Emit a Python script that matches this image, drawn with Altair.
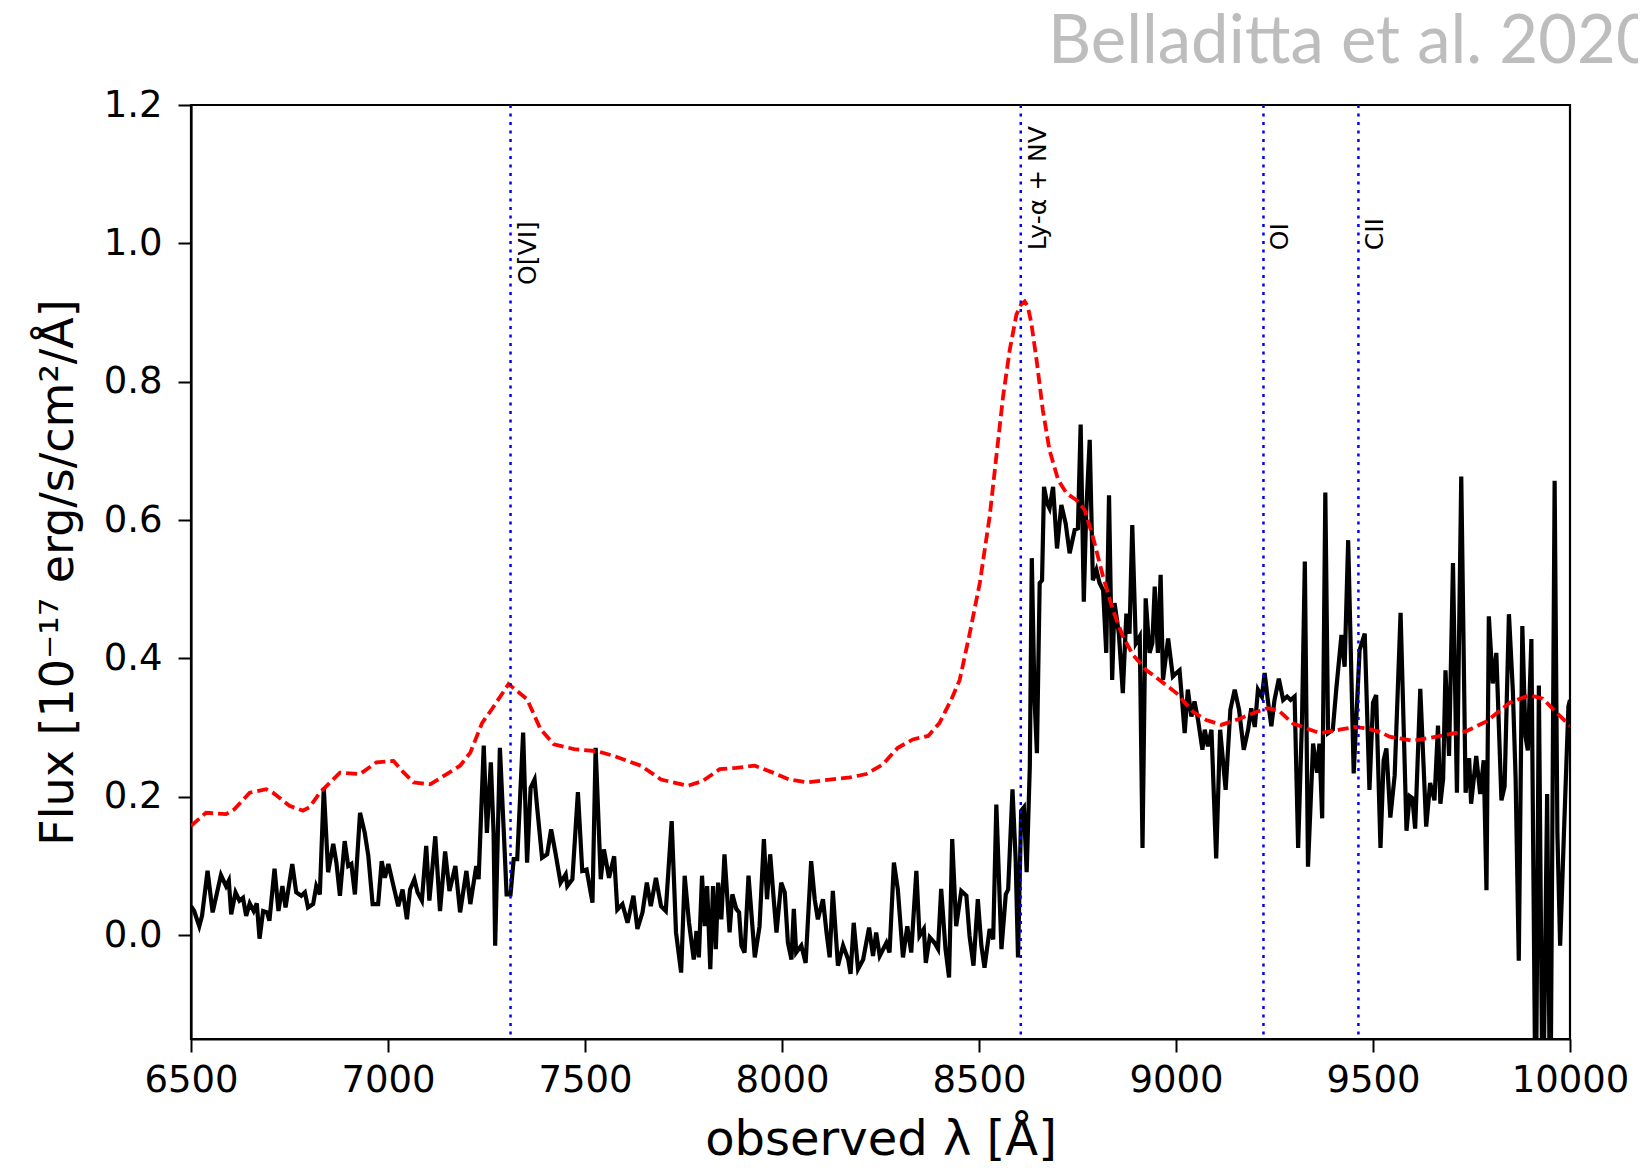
import altair as alt
import pandas as pd

# ---------------- data ----------------
SPEC_LAM = [
    6500, 6508, 6521, 6528, 6542, 6555, 6576, 6589, 6596, 6602, 6613, 6623, 6632, 6640, 6649, 6659,
    6667, 6674, 6683, 6693, 6699, 6712, 6722, 6732, 6740, 6757, 6767, 6780, 6789, 6797, 6810, 6818,
    6827, 6837, 6848, 6861, 6869, 6878, 6890, 6899, 6907, 6916, 6929, 6941, 6950, 6961, 6975, 6984,
    6992, 7001, 7014, 7026, 7037, 7048, 7056, 7067, 7075, 7086, 7097, 7105, 7120, 7132, 7145, 7156,
    7171, 7183, 7199, 7209, 7224, 7230, 7243, 7251, 7261, 7268, 7272, 7284, 7294, 7301, 7311, 7319,
    7328, 7343, 7353, 7362, 7372, 7379, 7391, 7404, 7414, 7425, 7438, 7451, 7455, 7468, 7482, 7493,
    7504, 7519, 7527, 7540, 7548, 7561, 7574, 7582, 7595, 7608, 7623, 7633, 7646, 7657, 7667, 7680,
    7693, 7705, 7720, 7731, 7744, 7753, 7764, 7776, 7783, 7789, 7797, 7804, 7810, 7818, 7825, 7832,
    7838, 7846, 7854, 7867, 7874, 7884, 7891, 7897, 7905, 7915, 7931, 7943, 7954, 7962, 7970, 7979,
    7986, 7998, 8007, 8015, 8024, 8030, 8036, 8049, 8060, 8074, 8083, 8091, 8104, 8113, 8121, 8129,
    8142, 8155, 8168, 8174, 8182, 8193, 8206, 8221, 8231, 8239, 8248, 8265, 8273, 8284, 8294, 8307,
    8318, 8328, 8341, 8349, 8360, 8365, 8375, 8387, 8396, 8404, 8415, 8424, 8432, 8442, 8455, 8468,
    8476, 8486, 8497, 8506, 8514, 8527, 8536, 8544, 8557, 8568, 8574, 8585, 8593, 8599, 8607, 8614,
    8621, 8629, 8634, 8641, 8647, 8654, 8660, 8665, 8673, 8679, 8688, 8698, 8709, 8720, 8730, 8743,
    8751, 8758, 8766, 8772, 8781, 8789, 8798, 8806, 8815, 8823, 8830, 8838, 8844, 8855, 8865, 8874,
    8882, 8889, 8898, 8908, 8915, 8923, 8933, 8940, 8946, 8954, 8961, 8967, 8980, 8992, 9001, 9009,
    9016, 9022, 9030, 9039, 9047, 9056, 9067, 9073, 9081, 9090, 9102, 9112, 9126, 9138, 9149, 9160,
    9172, 9183, 9191, 9200, 9208, 9218, 9225, 9233, 9242, 9250, 9261, 9272, 9282, 9291, 9301, 9310,
    9320, 9327, 9335, 9348, 9358, 9364, 9371, 9379, 9386, 9398, 9407, 9420, 9428, 9437, 9451, 9466,
    9479, 9491, 9500, 9508, 9519, 9527, 9534, 9544, 9555, 9570, 9585, 9593, 9600, 9607, 9620, 9635,
    9645, 9656, 9665, 9671, 9678, 9684, 9693, 9703, 9713, 9724, 9735, 9744, 9749, 9762, 9772, 9781,
    9788, 9794, 9804, 9813, 9826, 9834, 9845, 9855, 9862, 9870, 9879, 9887, 9893, 9902, 9913, 9921,
    9931, 9942, 9950, 9961, 9968, 9975, 9986, 9996, 10000,
]
SPEC_FLUX = [
    0.042, 0.035, 0.013, 0.028, 0.093, 0.033, 0.087, 0.071, 0.079, 0.030, 0.062, 0.050, 0.054, 0.028, 0.046, 0.035,
    0.046, -0.005, 0.035, 0.033, 0.021, 0.096, 0.035, 0.071, 0.040, 0.103, 0.062, 0.057, 0.062, 0.040, 0.045, 0.071,
    0.059, 0.213, 0.091, 0.132, 0.105, 0.057, 0.136, 0.100, 0.103, 0.059, 0.177, 0.148, 0.115, 0.045, 0.045, 0.107,
    0.083, 0.103, 0.071, 0.042, 0.066, 0.023, 0.066, 0.081, 0.062, 0.050, 0.129, 0.050, 0.143, 0.035, 0.121, 0.064,
    0.100, 0.033, 0.093, 0.045, 0.100, 0.081, 0.274, 0.148, 0.250, 0.148, -0.015, 0.271, 0.148, 0.059, 0.059, 0.110,
    0.110, 0.293, 0.105, 0.213, 0.225, 0.182, 0.112, 0.117, 0.153, 0.119, 0.076, 0.088, 0.071, 0.081, 0.207, 0.093,
    0.095, 0.047, 0.271, 0.081, 0.124, 0.083, 0.114, 0.037, 0.045, 0.018, 0.057, 0.009, 0.033, 0.076, 0.042, 0.083,
    0.042, 0.035, 0.165, 0.004, -0.054, 0.086, 0.018, -0.035, 0.006, -0.032, 0.086, 0.013, 0.071, -0.049, 0.071, -0.020,
    0.076, 0.023, 0.117, 0.004, 0.059, 0.038, 0.033, -0.015, -0.025, 0.086, -0.032, 0.013, 0.139, 0.052, 0.117, 0.052,
    0.004, 0.076, 0.062, -0.011, -0.035, 0.038, -0.025, -0.015, -0.040, 0.107, 0.052, 0.023, 0.052, 0.004, -0.032, 0.064,
    -0.044, -0.015, -0.035, -0.056, 0.018, -0.049, -0.035, 0.011, -0.030, 0.004, -0.030, -0.011, -0.025, 0.105, 0.066, -0.032,
    0.013, -0.025, 0.093, -0.001, 0.009, -0.040, -0.003, -0.011, -0.020, 0.067, -0.020, -0.061, 0.139, 0.013, 0.064, 0.057,
    -0.001, -0.044, 0.052, -0.015, -0.047, 0.009, -0.006, 0.189, -0.020, 0.059, 0.066, 0.211, 0.110, -0.032, 0.180, 0.185,
    0.091, 0.245, 0.545, 0.340, 0.263, 0.509, 0.513, 0.648, 0.624, 0.617, 0.648, 0.559, 0.622, 0.595, 0.552, 0.586,
    0.588, 0.738, 0.482, 0.610, 0.716, 0.513, 0.528, 0.509, 0.499, 0.408, 0.636, 0.369, 0.480, 0.436, 0.350, 0.465,
    0.436, 0.593, 0.422, 0.432, 0.126, 0.487, 0.408, 0.422, 0.504, 0.408, 0.521, 0.369, 0.429, 0.374, 0.379, 0.383,
    0.335, 0.292, 0.355, 0.316, 0.338, 0.311, 0.268, 0.297, 0.273, 0.297, 0.111, 0.297, 0.210, 0.326, 0.355, 0.326,
    0.268, 0.297, 0.328, 0.301, 0.355, 0.345, 0.379, 0.340, 0.302, 0.340, 0.371, 0.340, 0.345, 0.340, 0.345, 0.126,
    0.316, 0.540, 0.099, 0.277, 0.235, 0.277, 0.169, 0.640, 0.292, 0.297, 0.357, 0.434, 0.388, 0.571, 0.234, 0.412,
    0.436, 0.210, 0.336, 0.347, 0.126, 0.253, 0.270, 0.170, 0.231, 0.466, 0.151, 0.201, 0.198, 0.154, 0.356, 0.157,
    0.220, 0.195, 0.303, 0.190, 0.226, 0.383, 0.259, 0.538, 0.206, 0.663, 0.206, 0.256, 0.190, 0.259, 0.204, 0.253,
    0.065, 0.461, 0.364, 0.408, 0.195, 0.215, 0.464, 0.353, 0.226, -0.037, 0.447, 0.287, 0.267, 0.428, -0.300, 0.361,
    -0.300, 0.204, -0.300, 0.657, 0.148, -0.015, 0.170, 0.331, 0.340,
]

MODEL_LAM = [
    6500, 6538, 6589, 6610, 6649, 6691, 6708, 6750, 6784, 6801, 6827, 6878, 6929, 6971, 7014, 7035,
    7065, 7107, 7149, 7183, 7209, 7239, 7264, 7306, 7353, 7387, 7421, 7472, 7531, 7574, 7642, 7693,
    7761, 7799, 7842, 7884, 7931, 7977, 8019, 8066, 8121, 8172, 8214, 8256, 8294, 8332, 8371, 8400,
    8430, 8451, 8476, 8502, 8527, 8544, 8561, 8578, 8595, 8606, 8616, 8624, 8633, 8646, 8662, 8679,
    8701, 8722, 8747, 8768, 8789, 8815, 8840, 8865, 8891, 8925, 8958, 9001, 9043, 9077, 9115, 9162,
    9200, 9232, 9260, 9297, 9365, 9415, 9452, 9483, 9517, 9542, 9601, 9661, 9737, 9788, 9847, 9897,
    9931, 9965, 10000,
]
MODEL_FLUX = [
    0.158, 0.177, 0.175, 0.182, 0.206, 0.211, 0.206, 0.187, 0.180, 0.185, 0.206, 0.235, 0.233, 0.250, 0.252, 0.238,
    0.221, 0.218, 0.233, 0.245, 0.264, 0.307, 0.327, 0.363, 0.341, 0.298, 0.276, 0.269, 0.266, 0.259, 0.245, 0.225,
    0.216, 0.223, 0.240, 0.242, 0.245, 0.235, 0.225, 0.221, 0.225, 0.228, 0.233, 0.247, 0.271, 0.283, 0.288, 0.307,
    0.341, 0.369, 0.435, 0.509, 0.605, 0.692, 0.778, 0.846, 0.897, 0.911, 0.916, 0.909, 0.884, 0.832, 0.759, 0.701,
    0.658, 0.639, 0.629, 0.615, 0.576, 0.518, 0.470, 0.432, 0.405, 0.383, 0.369, 0.350, 0.323, 0.311, 0.304, 0.313,
    0.322, 0.328, 0.325, 0.306, 0.292, 0.297, 0.301, 0.299, 0.294, 0.287, 0.281, 0.287, 0.295, 0.309, 0.336, 0.347,
    0.342, 0.322, 0.303,
]

LINE_LAM = [7311, 8606, 9222, 9463]
LINE_NAME = ["O[VI]", "Ly-α + NV", "OI", "CII"]
LINE_LABEL_Y = [0.94, 0.99, 0.99, 0.99]

X_TICKS = [6500, 7000, 7500, 8000, 8500, 9000, 9500, 10000]
Y_TICKS = [0.0, 0.2, 0.4, 0.6, 0.8, 1.0, 1.2]

CREDIT = ["Belladitta et al. 2020"]

# ---------------- tables ----------------
spec_df = pd.DataFrame({"lam": SPEC_LAM, "flux": SPEC_FLUX})
model_df = pd.DataFrame({"lam": MODEL_LAM, "flux": MODEL_FLUX})
lines_df = pd.DataFrame({"lam": LINE_LAM, "name": LINE_NAME, "flux": LINE_LABEL_Y})
credit_df = pd.DataFrame({"t": CREDIT})

FONT = "DejaVu Sans"
W, H = 1379, 934

x_scale = alt.Scale(domain=[6500, 10000], nice=False, zero=False)
y_scale = alt.Scale(domain=[-0.15, 1.2], nice=False, zero=False)

x_enc = alt.X(
    "lam:Q", scale=x_scale,
    axis=alt.Axis(values=X_TICKS, format="d", title="observed λ [Å]", labelFlush=False,
                  titleX=W / 2, titleY=115, titleBaseline="alphabetic", titleAlign="center",
                  titleFontSize=48),
)
y_enc = alt.Y(
    "flux:Q", scale=y_scale,
    axis=alt.Axis(values=Y_TICKS, format=".1f", title="Flux [10⁻¹⁷ erg/s/cm²/Å]", labelFlush=False,
                  titleX=-133, titleY=H / 2, titleAngle=270, titleBaseline="middle",
                  titleAlign="center"),
)

spectrum = alt.Chart(spec_df).mark_line(color="black", strokeWidth=4.2, clip=True).encode(
    x=x_enc, y=y_enc
)
model = alt.Chart(model_df).mark_line(
    color="#ff0000", strokeWidth=3.8, strokeDash=[11, 5], clip=True
).encode(x=x_enc, y=y_enc)

rules = alt.Chart(lines_df).mark_rule(
    color="#0000ff", strokeWidth=2.5, strokeDash=[3, 5.5]
).encode(x=x_enc)

labels = alt.Chart(lines_df).mark_text(
    angle=270, align="left", baseline="top", dy=5, fontSize=25, font=FONT, color="black"
).encode(x=x_enc, y=y_enc, text="name:N")

credit = alt.Chart(credit_df).mark_text(
    align="left", baseline="alphabetic", fontSize=67, font="Lato", color="#bdbdbd"
).encode(x=alt.value(857), y=alt.value(-42), text="t:N")

chart = (
    alt.layer(spectrum, model, rules, labels, credit)
    .properties(
        width=W, height=H,
        autosize=alt.AutoSizeParams(type="none"),
        padding={"left": 183, "top": 97, "right": 68, "bottom": 129},
    )
    .configure_view(stroke="black", strokeWidth=2.2)
    .configure_axis(
        grid=False, domainColor="black", domainWidth=2.2, tickColor="black", tickWidth=2,
        tickSize=13, labelFont=FONT, labelFontSize=37, labelColor="black",
        titleFont=FONT, titleFontSize=46, titleFontWeight="normal", titleColor="black",
    )
    .configure_axisX(labelPadding=10)
    .configure_axisY(labelPadding=16)
)

chart.save("out.html", embed_options={"renderer": "svg", "actions": False})
